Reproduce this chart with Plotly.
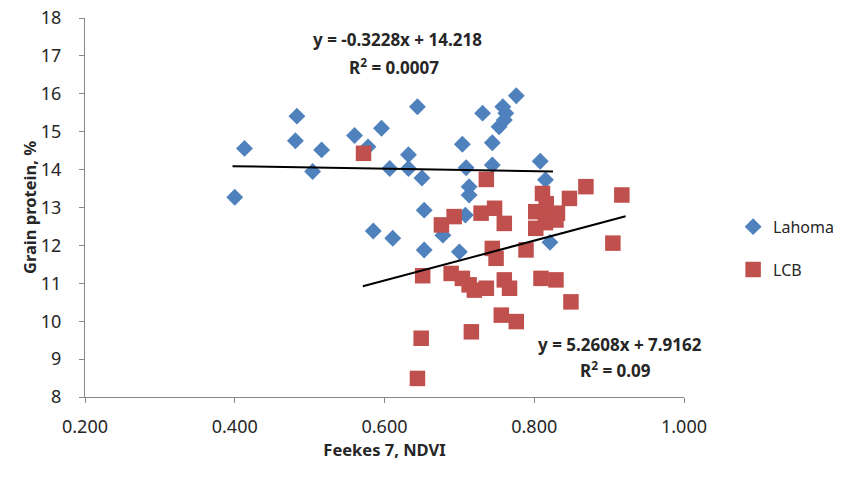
import plotly.graph_objects as go

# Lahoma (blue diamonds)
lahoma_x = [0.400, 0.413, 0.481, 0.483, 0.504, 0.516, 0.560, 0.578, 0.596, 0.585,
            0.607, 0.611, 0.632, 0.632, 0.644, 0.650, 0.653, 0.653, 0.678, 0.700,
            0.704, 0.708, 0.709, 0.713, 0.713, 0.731, 0.744, 0.744, 0.753, 0.758,
            0.760, 0.762, 0.776, 0.808, 0.815, 0.821]
lahoma_y = [13.27, 14.56, 14.76, 15.41, 13.95, 14.52, 14.90, 14.60, 15.09, 12.38,
            14.03, 12.19, 14.39, 14.03, 15.66, 13.78, 12.93, 11.88, 12.27, 11.83,
            14.67, 12.80, 14.05, 13.55, 13.33, 15.49, 14.71, 14.12, 15.13, 15.66,
            15.31, 15.49, 15.95, 14.22, 13.73, 12.08]

# LCB (red squares)
lcb_x = [0.572, 0.644, 0.649, 0.651, 0.676, 0.689, 0.693, 0.704, 0.713, 0.716,
         0.720, 0.729, 0.736, 0.736, 0.747, 0.744, 0.749, 0.756, 0.760, 0.760,
         0.767, 0.776, 0.789, 0.802, 0.802, 0.809, 0.811, 0.816, 0.829, 0.831,
         0.829, 0.847, 0.849, 0.869, 0.905, 0.917, 0.815, 0.822]
lcb_y = [14.43, 8.49, 9.55, 11.20, 12.54, 11.26, 12.76, 11.13, 10.96, 9.72,
         10.82, 12.85, 10.87, 13.74, 12.98, 11.92, 11.66, 10.16, 12.58, 11.09,
         10.87, 9.99, 11.88, 12.89, 12.45, 11.13, 13.37, 13.10, 12.67, 12.85,
         11.09, 13.24, 10.51, 13.55, 12.06, 13.33, 12.60, 12.75]

# Linear trend lines (slope, intercept, x extent)
lahoma_fit = (-0.3228, 14.218)
lahoma_fit_x = [0.397, 0.825]
lcb_fit = (5.2608, 7.9162)
lcb_fit_x = [0.571, 0.922]

x_ticks = [0.2, 0.4, 0.6, 0.8, 1.0]
x_ticklabels = ["0.200", "0.400", "0.600", "0.800", "1.000"]
y_ticks = list(range(8, 19))

FONT = "'Noto Sans', sans-serif"
BLUE = "#4F81BD"
RED = "#C0504D"
TXT = "#262626"

fig = go.Figure()
fig.add_trace(go.Scatter(x=lahoma_x, y=lahoma_y, mode="markers", name="Lahoma",
                         legendgroup="a",
                         marker=dict(symbol="diamond", size=13, color=BLUE)))
fig.add_trace(go.Scatter(x=lcb_x, y=lcb_y, mode="markers", name="LCB",
                         legendgroup="b",
                         marker=dict(symbol="square", size=15.5, color=RED)))

for (m, b), xs in [(lahoma_fit, lahoma_fit_x), (lcb_fit, lcb_fit_x)]:
    fig.add_trace(go.Scatter(x=xs, y=[m * v + b for v in xs], mode="lines",
                             line=dict(color="black", width=2),
                             showlegend=False, hoverinfo="skip"))

EQ = dict(size=17, color=TXT, family=FONT)
fig.add_annotation(x=0.617, y=17.42, xref="x", yref="y",
                   text="<b>y = -0.3228x + 14.218</b>", showarrow=False, font=EQ)
fig.add_annotation(x=0.613, y=16.72, xref="x", yref="y",
                   text="<b>R<sup>2</sup> = 0.0007</b>", showarrow=False, font=EQ)
fig.add_annotation(x=0.915, y=9.38, xref="x", yref="y",
                   text="<b>y = 5.2608x + 7.9162</b>", showarrow=False, font=EQ)
fig.add_annotation(x=0.908, y=8.72, xref="x", yref="y",
                   text="<b>R<sup>2</sup> = 0.09</b>", showarrow=False, font=EQ)

fig.update_layout(
    width=846, height=481,
    margin=dict(l=85, r=162, t=18, b=84, autoexpand=False),
    paper_bgcolor="white", plot_bgcolor="white",
    font=dict(family=FONT, size=15, color=TXT),
    legend=dict(x=1.082, y=0.494, xanchor="left", yanchor="top",
                tracegroupgap=19, font=dict(size=16, color=TXT),
                itemwidth=30),
    showlegend=True,
)
fig.update_xaxes(range=[0.2, 1.0], tickvals=x_ticks, ticktext=x_ticklabels,
                 showgrid=False, zeroline=False, showline=True,
                 linecolor="#868686", linewidth=1, ticks="outside",
                 ticklen=5, tickcolor="#868686", tickfont=dict(size=18),
                 ticklabelstandoff=8,
                 title=dict(text="<b>Feekes 7, NDVI</b>", font=dict(size=16.5), standoff=5))
fig.update_yaxes(range=[8, 18], tickvals=y_ticks,
                 showgrid=False, zeroline=False, showline=True,
                 linecolor="#868686", linewidth=1, ticks="outside",
                 ticklen=5, tickcolor="#868686", tickfont=dict(size=18),
                 ticklabelstandoff=14,
                 title=dict(text="<b>Grain protein, %</b>", font=dict(size=16.5), standoff=0))

fig.write_html("out.html")
